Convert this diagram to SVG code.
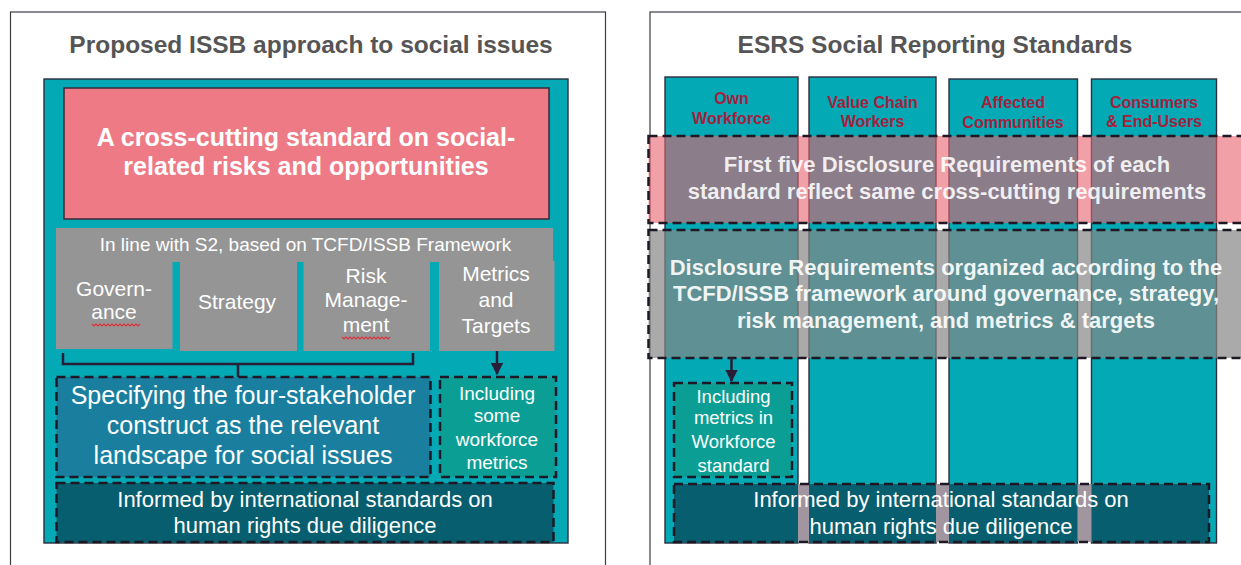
<svg xmlns="http://www.w3.org/2000/svg" width="1241" height="565" viewBox="0 0 1241 565">
  <defs>
    <marker id="arrowHead" viewBox="0 0 10 10" refX="9" refY="5" markerWidth="5" markerHeight="5" orient="auto">
      <path d="M0,0 L10,5 L0,10 z" fill="#2a1e36"/>
    </marker>
    <style>
      text { font-family: "Liberation Sans", Arial, sans-serif; text-anchor: middle; }
      .title { font-size: 24.5px; font-weight: bold; fill: #555555; }
      .panel { fill: #ffffff; stroke: #3c3c44; stroke-width: 1.2; }
      .teal { fill: #03a9b5; stroke: #2e2e3e; stroke-width: 1.4; }
      .gray { fill: #959595; }
      .wt { fill: #ffffff; }
      .bold { font-weight: bold; }
      .dash { stroke: #1d1824; stroke-width: 2.5; stroke-dasharray: 9 5; }
      .label { font-size: 16px; font-weight: bold; fill: #a3213d; }
      .conn { fill: none; stroke: #2a1e36; stroke-width: 2.5; }
      .squiggle { fill: none; stroke: #e0303c; stroke-width: 1.1; }
    </style>
  </defs>

  <!-- ===== Left panel: proposed ISSB approach ===== -->
  <g id="issb-panel">
    <rect class="panel" x="10.5" y="12" width="595" height="570"/>
    <text class="title" x="311" y="53">Proposed ISSB approach to social issues</text>
    <rect class="teal" x="44" y="79" width="524" height="464"/>
  </g>

  <g id="issb-cross-cutting">
    <rect x="64" y="88" width="485" height="131" fill="#ee7a86" stroke="#3a2a3a" stroke-width="1.5"/>
    <text class="wt bold" font-size="25" x="306" y="146">A cross-cutting standard on social-</text>
    <text class="wt bold" font-size="25" x="306" y="175">related risks and opportunities</text>
  </g>

  <g id="issb-framework">
    <rect class="gray" x="56" y="228" width="497" height="34"/>
    <text class="wt" font-size="19" x="305.5" y="251">In line with S2, based on TCFD/ISSB Framework</text>
  </g>

  <g id="issb-governance">
    <rect class="gray" x="56" y="261" width="116.5" height="88"/>
    <text class="wt" font-size="21" x="114" y="296">Govern-</text>
    <text class="wt" font-size="21" x="114" y="319">ance</text>
    <path class="squiggle" d="M92,324 l2,2 2,-2 2,2 2,-2 2,2 2,-2 2,2 2,-2 2,2 2,-2 2,2 2,-2 2,2 2,-2 2,2 2,-2 2,2 2,-2 2,2 2,-2 2,2 2,-2 2,2 2,-2"/>
  </g>

  <g id="issb-strategy">
    <rect class="gray" x="180" y="261" width="117" height="90"/>
    <text class="wt" font-size="21" x="237" y="309">Strategy</text>
  </g>

  <g id="issb-risk">
    <rect class="gray" x="303.5" y="261" width="126.5" height="90"/>
    <text class="wt" font-size="21" x="366" y="283">Risk</text>
    <text class="wt" font-size="21" x="366" y="307">Manage-</text>
    <text class="wt" font-size="21" x="366" y="332">ment</text>
    <path class="squiggle" d="M342,337 l2,2 2,-2 2,2 2,-2 2,2 2,-2 2,2 2,-2 2,2 2,-2 2,2 2,-2 2,2 2,-2 2,2 2,-2 2,2 2,-2 2,2 2,-2 2,2 2,-2 2,2 2,-2"/>
  </g>

  <g id="issb-metrics">
    <rect class="gray" x="439" y="261" width="115.5" height="90"/>
    <text class="wt" font-size="21" x="496" y="281">Metrics</text>
    <text class="wt" font-size="21" x="496" y="307">and</text>
    <text class="wt" font-size="21" x="496" y="333">Targets</text>
  </g>

  <g id="issb-stakeholder">
    <rect class="dash" x="56.5" y="377" width="374" height="100" fill="#1a7f9e"/>
    <text class="wt" font-size="25" x="243" y="404">Specifying the four-stakeholder</text>
    <text class="wt" font-size="25" x="243" y="434">construct as the relevant</text>
    <text class="wt" font-size="25" x="243" y="464">landscape for social issues</text>
  </g>

  <g id="issb-workforce-metrics">
    <rect class="dash" x="440" y="377" width="116" height="100" fill="#0b9e94"/>
    <text class="wt" font-size="19" x="497" y="400">Including</text>
    <text class="wt" font-size="19" x="497" y="422">some</text>
    <text class="wt" font-size="19" x="497" y="446">workforce</text>
    <text class="wt" font-size="19" x="497" y="469">metrics</text>
  </g>

  <g id="issb-due-diligence">
    <rect class="dash" x="56.5" y="483" width="497" height="59" fill="#065e6e"/>
    <text class="wt" font-size="22" x="305" y="507">Informed by international standards on</text>
    <text class="wt" font-size="22" x="305" y="533">human rights due diligence</text>
  </g>

  <!-- ===== Right panel: ESRS social standards ===== -->
  <g id="esrs-panel">
    <rect class="panel" x="650" y="12" width="610" height="570"/>
    <text class="title" x="935" y="53">ESRS Social Reporting Standards</text>
  </g>

  <g id="esrs-own-workforce">
    <rect class="teal" x="665" y="77" width="133" height="466"/>
    <text class="label" x="731.5" y="104">Own</text>
    <text class="label" x="731.5" y="124">Workforce</text>
  </g>

  <g id="esrs-value-chain">
    <rect class="teal" x="809" y="77" width="127" height="466"/>
    <text class="label" x="872.5" y="108">Value Chain</text>
    <text class="label" x="872.5" y="127">Workers</text>
  </g>

  <g id="esrs-communities">
    <rect class="teal" x="949" y="79" width="128.5" height="464"/>
    <text class="label" x="1013" y="108">Affected</text>
    <text class="label" x="1013" y="128">Communities</text>
  </g>

  <g id="esrs-consumers">
    <rect class="teal" x="1091.5" y="79" width="125" height="464"/>
    <text class="label" x="1154" y="108">Consumers</text>
    <text class="label" x="1154" y="127">&amp; End-Users</text>
  </g>

  <g id="esrs-cross-cutting">
    <rect x="648.5" y="136" width="610" height="87" fill="#e8606e" fill-opacity="0.6"/>
    <rect class="dash" x="648.5" y="136" width="610" height="87" fill="none"/>
    <text class="wt bold" font-size="22" x="947" y="172" fill-opacity="0.88">First five Disclosure Requirements of each</text>
    <text class="wt bold" font-size="22" x="947" y="199" fill-opacity="0.88">standard reflect same cross-cutting requirements</text>
  </g>

  <g id="esrs-tcfd">
    <rect x="648.5" y="230" width="610" height="128" fill="#868686" fill-opacity="0.7"/>
    <rect class="dash" x="648.5" y="230" width="610" height="128" fill="none"/>
    <text class="wt bold" font-size="22" x="946" y="275" fill-opacity="0.92">Disclosure Requirements organized according to the</text>
    <text class="wt bold" font-size="22" x="946" y="301" fill-opacity="0.92">TCFD/ISSB framework around governance, strategy,</text>
    <text class="wt bold" font-size="22" x="946" y="328" fill-opacity="0.92">risk management, and metrics &amp; targets</text>
  </g>

  <g id="esrs-workforce-metrics">
    <rect class="dash" x="674" y="383" width="118" height="94" fill="#0b9e94"/>
    <text class="wt" font-size="18.5" x="733.5" y="403">Including</text>
    <text class="wt" font-size="18.5" x="733.5" y="424">metrics in</text>
    <text class="wt" font-size="18.5" x="733.5" y="448">Workforce</text>
    <text class="wt" font-size="18.5" x="733.5" y="472">standard</text>
  </g>

  <g id="esrs-due-diligence">
    <rect x="674" y="484" width="535" height="58" fill="#065e6e"/>
    <rect x="798" y="484" width="11" height="58" fill="#a1959f"/>
    <rect x="936" y="484" width="13" height="58" fill="#a1959f"/>
    <rect x="1077.5" y="484" width="14" height="58" fill="#a1959f"/>
    <rect class="dash" x="674" y="484" width="535" height="58" fill="none"/>
    <text class="wt" font-size="22" x="941" y="507">Informed by international standards on</text>
    <text class="wt" font-size="22" x="941" y="534">human rights due diligence</text>
  </g>

  <!-- ===== Connectors ===== -->
  <g id="connectors">
    <path class="conn" d="M63,353 V364 H413 V353 M238,364 V377"/>
    <path class="conn" d="M497,351 V374" marker-end="url(#arrowHead)"/>
    <path class="conn" d="M731.5,358 V381" marker-end="url(#arrowHead)"/>
  </g>
</svg>
